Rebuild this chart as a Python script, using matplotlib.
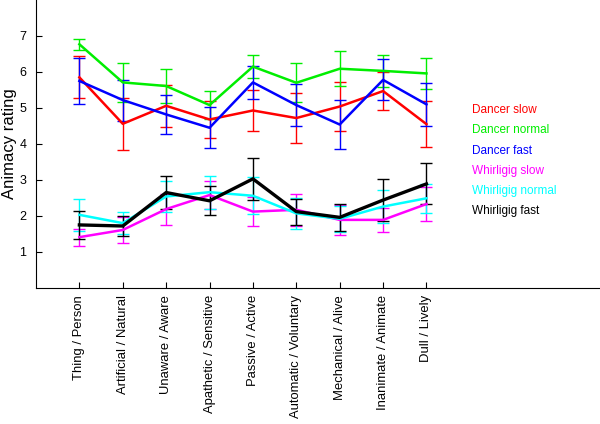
import matplotlib
matplotlib.use('Agg')
import matplotlib.pyplot as plt
from matplotlib.lines import Line2D

plt.rcParams['font.family'] = ['Liberation Sans', 'DejaVu Sans']

scales = ['Thing / Person', 'Artificial / Natural', 'Unaware / Aware',
          'Apathetic / Sensitive', 'Passive / Active', 'Automatic / Voluntary',
          'Mechanical / Alive', 'Inanimate / Animate', 'Dull / Lively']

dancer_slow = [5.85, 4.56, 5.06, 4.68, 4.93, 4.72, 5.04, 5.47, 4.55]
dancer_slow_err = [0.58, 0.73, 0.58, 0.52, 0.58, 0.70, 0.68, 0.54, 0.64]
dancer_normal = [6.77, 5.71, 5.61, 5.08, 6.15, 5.70, 6.09, 6.03, 5.96]
dancer_normal_err = [0.16, 0.54, 0.46, 0.38, 0.33, 0.54, 0.49, 0.45, 0.42]
dancer_fast = [5.75, 5.22, 4.82, 4.45, 5.71, 5.08, 4.54, 5.78, 5.10]
dancer_fast_err = [0.63, 0.57, 0.55, 0.57, 0.46, 0.58, 0.67, 0.57, 0.60]
whirl_slow = [1.41, 1.61, 2.19, 2.58, 2.12, 2.17, 1.89, 1.89, 2.33]
whirl_slow_err = [0.24, 0.36, 0.43, 0.40, 0.40, 0.44, 0.42, 0.34, 0.47]
whirl_normal = [2.03, 1.80, 2.54, 2.66, 2.56, 2.07, 1.92, 2.26, 2.49]
whirl_normal_err = [0.44, 0.31, 0.44, 0.46, 0.51, 0.42, 0.36, 0.46, 0.41]
whirl_fast = [1.75, 1.72, 2.65, 2.42, 3.03, 2.12, 1.96, 2.44, 2.89]
whirl_fast_err = [0.38, 0.29, 0.46, 0.40, 0.59, 0.36, 0.37, 0.59, 0.57]

series = [
    ('Dancer slow', dancer_slow, dancer_slow_err, '#ff0000', 1.8),
    ('Dancer normal', dancer_normal, dancer_normal_err, '#00ee00', 1.8),
    ('Dancer fast', dancer_fast, dancer_fast_err, '#0000ff', 1.8),
    ('Whirligig slow', whirl_slow, whirl_slow_err, '#ff00ff', 1.8),
    ('Whirligig normal', whirl_normal, whirl_normal_err, '#00ffff', 1.8),
    ('Whirligig fast', whirl_fast, whirl_fast_err, '#000000', 2.4),
]

fig = plt.figure(figsize=(6, 4.24), dpi=100)
ax = fig.add_axes([0.06, 0.321, 0.94, 0.679])

x = list(range(1, len(scales) + 1))
handles = []
for name, vals, err, col, lw in series:
    ax.errorbar(x, vals, yerr=err, color=col, lw=lw, elinewidth=1.0,
                capsize=4, capthick=1.0)
    handles.append(Line2D([], [], color=col, label=name))

ax.set_xlim(0, 13)
ax.set_ylim(0, 8)
ax.set_yticks(range(1, 8))
ax.set_xticks(x)
ax.set_xticklabels(scales, rotation=90, fontsize=9.4)
ax.tick_params(axis='y', direction='in', length=4, labelsize=9, pad=7)
ax.tick_params(axis='x', direction='in', length=4, pad=5)
ax.spines['top'].set_visible(False)
ax.spines['right'].set_visible(False)
ax.set_ylabel('Animacy rating', fontsize=12)
ax.yaxis.set_label_coords(-0.034, 0.5)

ax.legend(handles=handles, loc='upper left', bbox_to_anchor=(0.765, 0.655),
          frameon=False, handlelength=0, handletextpad=0, labelcolor='linecolor',
          fontsize=8.5, labelspacing=0.7, borderaxespad=0)

fig.savefig('out.png', dpi=100)
